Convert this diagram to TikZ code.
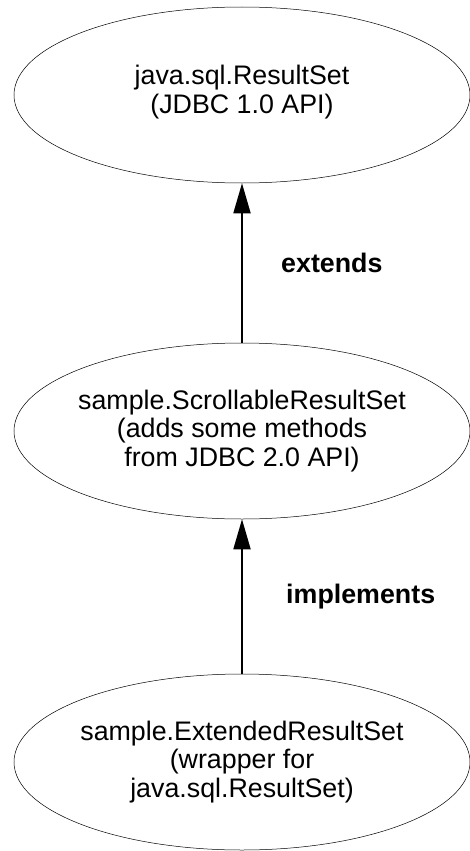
\documentclass[tikz,border=0pt]{standalone}
\usepackage{fontspec}
\setmainfont{Liberation Sans}
\usetikzlibrary{arrows.meta,shapes.geometric,positioning,calc}

\begin{document}
\begin{tikzpicture}[x=1pt,y=-1pt,
    iface/.style={draw, ellipse, line width=0.5pt, minimum width=456pt, minimum height=176pt, inner sep=0pt},
    itext/.style={align=center, font=\fontsize{26.8}{28.6}\selectfont},
    rel/.style={line width=1.8pt, -{Triangle[length=30pt,width=17pt]}},
    rellabel/.style={anchor=west, font=\fontsize{26.8}{28.6}\selectfont\bfseries}]
            \useasboundingbox (0,0) rectangle (469,851);
            \coordinate (C1) at (242,95);
            \coordinate (C2) at (242,431);
            \coordinate (C3) at (242,762);
            % the three classes
            \node[iface] (rs) at (C1) {};
            \node[iface] (scroll) at (C2) {};
            \node[iface] (ext) at (C3) {};
            \node[itext, yshift=3pt] (rstext) at (rs) {java.sql.ResultSet\\(JDBC 1.0 API)};
            \node[itext] (scrolltext) at (scroll) {sample.ScrollableResultSet\\(adds some methods\\from JDBC 2.0 API)};
            \node[itext] (exttext) at (ext) {sample.ExtendedResultSet\\(wrapper for\\java.sql.ResultSet)};
            % relations
            \draw[rel] (scroll) -- node[rellabel, xshift=35pt]{extends} (rs);
            \draw[rel] (ext) -- node[rellabel, xshift=40pt]{implements} (scroll);
        \end{tikzpicture}
\end{document}
